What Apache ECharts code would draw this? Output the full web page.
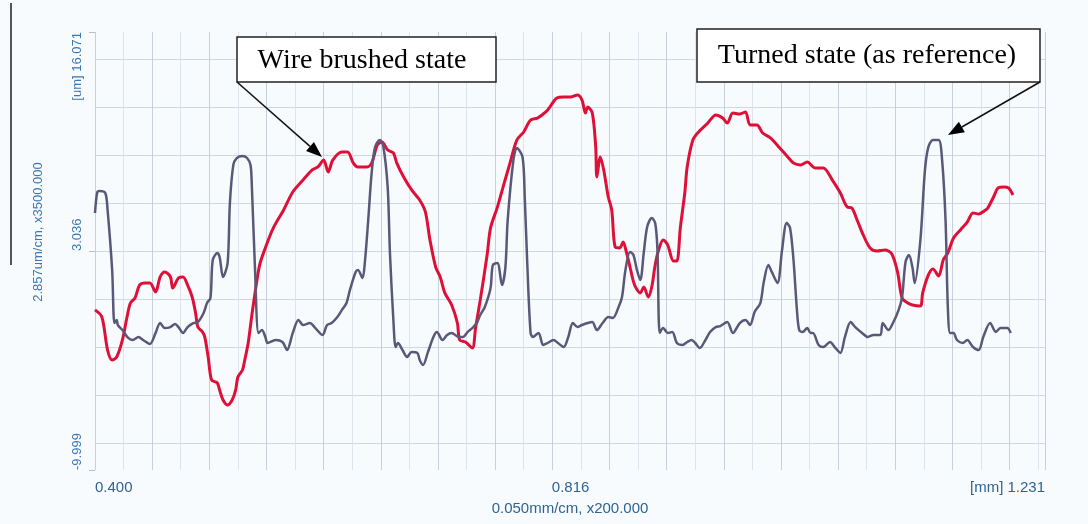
<!DOCTYPE html>
<html><head><meta charset="utf-8">
<script src="https://cdn.jsdelivr.net/npm/echarts@6/dist/echarts.min.js"></script>
<style>html,body{margin:0;padding:0;background:#f8fbfd}#c{width:1088px;height:524px}</style>
</head><body><div id="c"></div>
<script>
// Axis tick values (mm on x, um on y)
const xTicks = [0.400, 0.816, 1.231];
const yTicks = [-9.999, 3.036, 16.071];
const xGridStep = 0.025;
const yGridLines = [-8.392, -5.535, -2.678, 0.179, 3.036, 5.893, 8.750, 11.607, 14.464];
const xAxisName = '0.050mm/cm, x200.000';
const yAxisName = '2.857um/cm, x3500.000';
const labelWire = 'Wire brushed state';
const labelTurned = 'Turned state (as reference)';

// Profile: turned state (as reference) [x mm, z um]
const turnedProfile = [
[0.400,5.30],[0.402,6.55],[0.404,6.61],[0.409,6.49],[0.411,5.48],[0.415,1.91],[0.417,-1.25],[0.419,-1.07],[0.420,-1.37],[0.424,-1.67],[0.429,-2.14],[0.433,-2.26],[0.438,-2.08],[0.442,-2.26],[0.448,-2.50],[0.453,-1.84],[0.457,-1.25],[0.461,-1.55],[0.466,-1.49],[0.470,-1.31],[0.473,-1.49],[0.477,-1.84],[0.481,-1.49],[0.486,-1.25],[0.490,-1.19],[0.495,-0.65],[0.498,-0.06],[0.501,0.24],[0.503,2.50],[0.507,2.92],[0.509,2.68],[0.512,1.49],[0.516,2.32],[0.518,5.89],[0.521,8.16],[0.524,8.57],[0.529,8.69],[0.533,8.57],[0.536,8.16],[0.537,7.26],[0.540,1.91],[0.543,-1.84],[0.546,-1.67],[0.549,-2.08],[0.551,-2.44],[0.558,-2.26],[0.564,-2.38],[0.568,-2.86],[0.573,-1.84],[0.578,-1.07],[0.582,-1.37],[0.588,-1.25],[0.592,-1.49],[0.599,-1.96],[0.603,-1.37],[0.607,-1.25],[0.612,-0.89],[0.616,-0.47],[0.620,-0.06],[0.623,0.72],[0.628,1.79],[0.630,1.91],[0.634,1.43],[0.636,2.32],[0.639,4.88],[0.642,7.68],[0.645,9.23],[0.649,9.64],[0.652,9.35],[0.656,6.85],[0.658,2.92],[0.661,-1.07],[0.663,-2.68],[0.665,-2.44],[0.669,-2.86],[0.673,-3.27],[0.677,-2.98],[0.682,-3.03],[0.684,-3.45],[0.687,-3.75],[0.691,-3.03],[0.696,-2.08],[0.699,-1.78],[0.704,-2.26],[0.708,-1.96],[0.712,-1.84],[0.718,-2.08],[0.722,-2.08],[0.726,-1.78],[0.730,-1.55],[0.734,-1.25],[0.737,-0.77],[0.741,-0.30],[0.746,0.83],[0.748,2.20],[0.752,2.32],[0.756,1.01],[0.759,2.08],[0.761,4.88],[0.766,8.45],[0.769,9.17],[0.774,8.63],[0.776,6.07],[0.778,2.50],[0.781,-1.84],[0.783,-2.08],[0.788,-1.84],[0.792,-2.56],[0.796,-2.44],[0.801,-2.26],[0.805,-2.44],[0.810,-2.68],[0.814,-2.08],[0.818,-1.25],[0.822,-1.49],[0.826,-1.37],[0.831,-1.25],[0.835,-1.19],[0.839,-1.67],[0.844,-1.25],[0.849,-0.89],[0.853,-0.95],[0.858,-0.30],[0.861,0.30],[0.864,1.91],[0.868,2.98],[0.871,2.80],[0.874,1.91],[0.877,1.31],[0.880,2.92],[0.883,4.47],[0.887,5.00],[0.890,4.70],[0.892,3.10],[0.894,-1.84],[0.897,-1.55],[0.901,-1.84],[0.905,-1.78],[0.909,-2.44],[0.914,-2.56],[0.918,-2.38],[0.922,-2.26],[0.925,-2.44],[0.929,-2.74],[0.934,-2.26],[0.938,-1.78],[0.943,-1.49],[0.947,-1.43],[0.953,-1.19],[0.958,-1.84],[0.964,-1.25],[0.969,-1.07],[0.973,-1.37],[0.977,-0.59],[0.982,-0.06],[0.985,1.19],[0.989,2.20],[0.992,1.79],[0.997,1.13],[1.001,3.10],[1.005,4.70],[1.008,4.41],[1.011,2.50],[1.014,-0.47],[1.016,-1.67],[1.019,-1.78],[1.023,-1.55],[1.026,-1.84],[1.028,-1.84],[1.033,-2.56],[1.037,-2.68],[1.043,-2.38],[1.047,-2.68],[1.052,-3.03],[1.056,-2.08],[1.061,-1.19],[1.065,-1.49],[1.071,-1.84],[1.076,-2.08],[1.081,-1.96],[1.087,-1.96],[1.089,-1.25],[1.094,-1.67],[1.098,-1.25],[1.103,-0.47],[1.106,0.30],[1.109,2.38],[1.112,2.80],[1.115,2.08],[1.117,1.13],[1.122,3.69],[1.126,7.86],[1.129,9.23],[1.133,9.64],[1.138,9.64],[1.141,8.45],[1.144,4.88],[1.146,-0.30],[1.148,-1.84],[1.151,-1.84],[1.154,-2.26],[1.159,-2.44],[1.163,-2.26],[1.168,-2.68],[1.173,-2.86],[1.177,-2.08],[1.183,-1.25],[1.188,-1.78],[1.192,-1.55],[1.198,-1.55],[1.201,-1.84]
];

// Profile: wire brushed state [x mm, z um]
const wireProfile = [
[0.400,-0.47],[0.406,-0.89],[0.411,-2.86],[0.415,-3.45],[0.419,-3.27],[0.424,-2.26],[0.428,-0.89],[0.431,-0.06],[0.435,0.24],[0.439,1.01],[0.444,1.13],[0.448,1.13],[0.453,0.60],[0.457,1.49],[0.461,1.79],[0.466,1.49],[0.468,0.83],[0.473,1.43],[0.477,1.49],[0.481,1.01],[0.485,0.30],[0.488,-0.65],[0.490,-1.49],[0.494,-1.78],[0.496,-2.08],[0.499,-3.27],[0.502,-4.64],[0.507,-4.82],[0.509,-5.24],[0.512,-5.83],[0.516,-6.13],[0.520,-5.83],[0.523,-5.24],[0.525,-4.46],[0.529,-4.05],[0.531,-3.45],[0.534,-2.44],[0.537,-0.89],[0.540,0.54],[0.544,2.20],[0.549,3.22],[0.556,4.41],[0.565,5.48],[0.573,6.55],[0.582,7.26],[0.590,7.86],[0.595,8.04],[0.600,8.45],[0.604,7.74],[0.608,8.45],[0.616,8.93],[0.621,8.93],[0.626,8.27],[0.630,8.04],[0.638,8.04],[0.642,8.27],[0.647,9.35],[0.651,9.52],[0.656,9.05],[0.661,8.87],[0.664,8.27],[0.670,7.44],[0.677,6.67],[0.684,6.07],[0.689,5.36],[0.693,3.69],[0.698,2.08],[0.702,1.49],[0.706,0.54],[0.712,-0.18],[0.717,-1.25],[0.719,-2.26],[0.724,-2.38],[0.730,-2.74],[0.733,-1.49],[0.737,0.12],[0.743,2.80],[0.746,4.41],[0.752,5.65],[0.757,6.85],[0.763,8.27],[0.769,9.64],[0.775,10.12],[0.781,10.83],[0.787,10.95],[0.791,11.13],[0.796,11.43],[0.804,12.14],[0.810,12.20],[0.816,12.20],[0.822,12.32],[0.826,12.02],[0.829,11.25],[0.831,11.61],[0.835,11.25],[0.838,9.23],[0.839,7.44],[0.842,8.63],[0.845,7.86],[0.849,6.25],[0.852,5.48],[0.855,3.27],[0.859,3.22],[0.862,3.57],[0.865,2.92],[0.868,2.08],[0.872,1.01],[0.877,0.54],[0.880,0.89],[0.884,0.30],[0.887,0.89],[0.890,2.20],[0.893,3.10],[0.897,3.69],[0.901,3.39],[0.906,2.44],[0.909,2.44],[0.912,4.41],[0.916,6.55],[0.918,8.04],[0.923,9.64],[0.928,10.12],[0.936,10.65],[0.943,11.13],[0.949,10.95],[0.953,10.65],[0.958,11.25],[0.964,11.19],[0.969,11.31],[0.973,10.54],[0.979,10.54],[0.984,10.06],[0.991,9.76],[0.999,9.17],[1.006,8.63],[1.011,8.27],[1.017,8.16],[1.023,8.33],[1.030,7.98],[1.037,7.98],[1.045,7.26],[1.052,6.49],[1.058,5.65],[1.062,5.60],[1.067,4.82],[1.072,3.99],[1.078,3.22],[1.084,3.04],[1.091,3.10],[1.097,2.86],[1.102,1.79],[1.106,0.24],[1.111,-0.06],[1.115,-0.18],[1.122,-0.24],[1.124,0.54],[1.129,1.61],[1.133,1.96],[1.138,1.55],[1.142,2.50],[1.146,2.92],[1.151,3.81],[1.157,4.29],[1.163,4.76],[1.168,5.30],[1.173,5.24],[1.179,5.48],[1.181,5.60],[1.186,6.25],[1.190,6.79],[1.195,6.85],[1.199,6.79],[1.203,6.37]
];

const AX_BLUE = '#3b78b4';
const chart = echarts.init(document.getElementById('c'), null, {renderer: 'canvas'});

function arrow(x1, y1, x2, y2, len, half) {
  const dx = x2 - x1, dy = y2 - y1, L = Math.hypot(dx, dy);
  const ux = dx / L, uy = dy / L;
  const bx = x2 - ux * len, by = y2 - uy * len;
  return [
    {type: 'line', silent: true, z: 100, shape: {x1: x1, y1: y1, x2: bx, y2: by}, style: {stroke: '#111', lineWidth: 1.5}},
    {type: 'polygon', silent: true, z: 100, shape: {points: [[x2, y2], [bx - uy * half, by + ux * half], [bx + uy * half, by - ux * half]]}, style: {fill: '#000'}}
  ];
}

chart.setOption({
  backgroundColor: '#f8fbfd',
  animation: false,
  grid: {left: 95, right: 43, top: 32, bottom: 54, outerBoundsMode: 'none'},
  xAxis: [
    {
      type: 'value', min: 0.4, max: 1.231, position: 'bottom',
      axisLine: {show: false},
      axisTick: {show: false, customValues: xTicks},
      splitLine: {show: false},
      axisLabel: {
        customValues: xTicks, margin: 10, color: '#2d6494', fontSize: 15,
        fontFamily: 'Liberation Sans, Arial, sans-serif',
        alignMinLabel: 'left', alignMaxLabel: 'right',
        formatter: v => (Math.abs(v - 1.231) < 1e-6 ? '[mm] ' : '') + v.toFixed(3)
      },
      name: xAxisName, nameLocation: 'middle', nameGap: 31,
      nameTextStyle: {color: '#2d6494', fontSize: 15, fontFamily: 'Liberation Sans, Arial, sans-serif'}
    },
    {
      type: 'value', min: 0.4, max: 1.231, interval: xGridStep, position: 'bottom',
      axisLine: {show: false}, axisTick: {show: false}, axisLabel: {show: false},
      splitLine: {show: true, lineStyle: {color: ['#c6d0dc', '#dde4ec'], width: 1}}
    }
  ],
  yAxis: [
    {
      type: 'value', min: -9.999, max: 16.071,
      axisLine: {show: false},
      axisTick: {show: true, customValues: yTicks, length: 6, lineStyle: {color: '#b8c0cb'}},
      splitLine: {show: false},
      axisLabel: {
        customValues: yTicks, rotate: 90, margin: 11, color: AX_BLUE, fontSize: 13,
        fontFamily: 'Liberation Sans, Arial, sans-serif',
        align: 'left', alignMinLabel: 'left', alignMaxLabel: 'right',
        formatter: v => (Math.abs(v - 16.071) < 1e-6 ? '[um] ' : '') + v.toFixed(3)
      },
      name: yAxisName, nameLocation: 'middle', nameGap: 50,
      nameTextStyle: {color: AX_BLUE, fontSize: 13, fontFamily: 'Liberation Sans, Arial, sans-serif', padding: [0, 0, 0, 38]}
    },
    {
      type: 'value', min: -9.999, max: 16.071, position: 'left',
      axisLine: {show: false},
      axisTick: {show: false, customValues: yGridLines},
      axisLabel: {show: false},
      splitLine: {show: true, lineStyle: {color: '#cfd8e2', width: 1}}
    }
  ],
  series: [
    {
      name: labelWire, type: 'line', xAxisIndex: 0, yAxisIndex: 0, data: wireProfile,
      symbol: 'none', smooth: 0.3, z: 3,
      lineStyle: {color: '#de1038', width: 3}
    },
    {
      name: labelTurned, type: 'line', xAxisIndex: 0, yAxisIndex: 0, data: turnedProfile,
      symbol: 'none', smooth: 0.3, z: 4,
      lineStyle: {color: '#5a5878', width: 2.5}
    }
  ],
  graphic: [
    {type: 'line', silent: true, shape: {x1: 11, y1: 3, x2: 11, y2: 265}, style: {stroke: '#555', lineWidth: 2}},
    {type: 'rect', silent: true, z: 100, shape: {x: 237, y: 37, width: 259, height: 45}, style: {fill: '#fff', stroke: '#222', lineWidth: 1.5}},
    {type: 'text', silent: true, z: 101, x: 362, y: 61, style: {text: labelWire, fill: '#000', font: '28px "Liberation Serif", "Times New Roman", serif', align: 'center', verticalAlign: 'middle'}},
    {type: 'rect', silent: true, z: 100, shape: {x: 697, y: 29, width: 343, height: 53}, style: {fill: '#fff', stroke: '#222', lineWidth: 1.5}},
    {type: 'text', silent: true, z: 101, x: 867, y: 56, style: {text: labelTurned, fill: '#000', font: '28px "Liberation Serif", "Times New Roman", serif', align: 'center', verticalAlign: 'middle'}}
  ].concat(arrow(237, 82, 322, 157, 16, 6)).concat(arrow(1040, 82, 948, 135, 16, 6))
});
</script>
</body></html>
